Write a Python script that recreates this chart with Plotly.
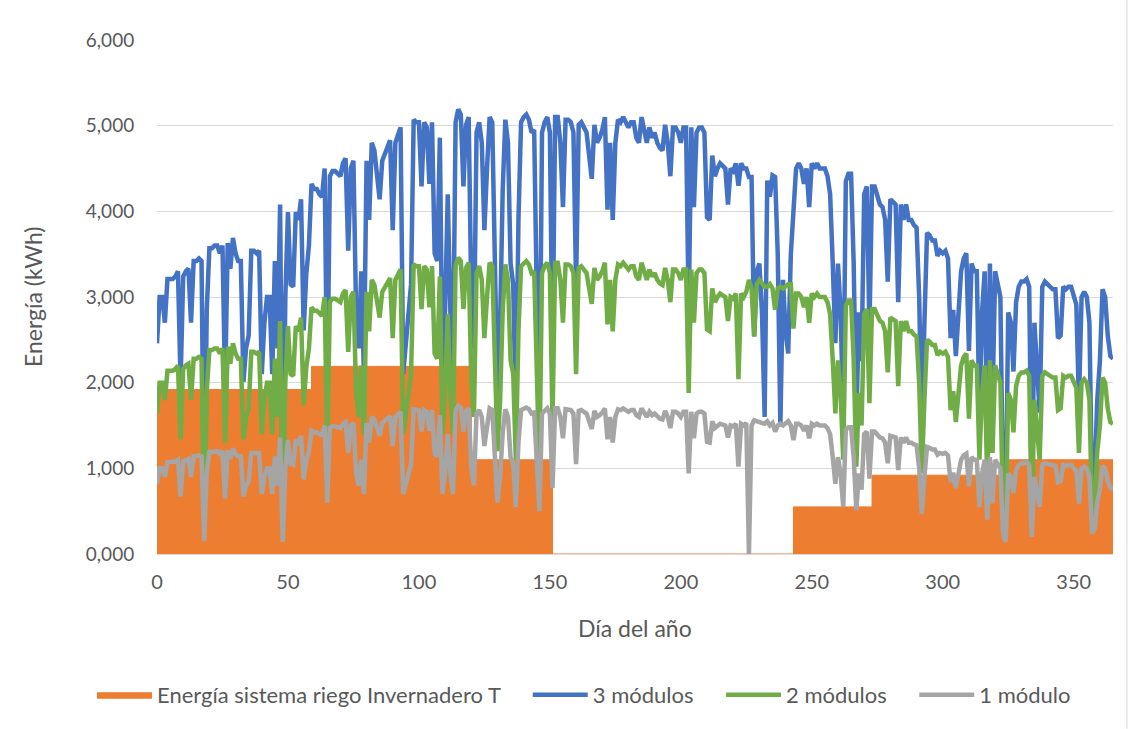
import plotly.graph_objects as go

dias = list(range(366))

# Energía sistema riego (escalones por periodo)
riego_x = [0, 59, 120, 151, 243, 273, 324, 365]
riego_y = [1.92, 2.19, 1.10, 0.00, 0.55, 0.92, 1.10, 1.10]

modulo_1 = [
    0.82, 1.00, 1.00, 0.90, 1.07, 1.07, 1.07, 1.08, 1.10, 0.67,
    1.08, 1.10, 1.11, 0.90, 1.14, 1.14, 1.15, 1.14, 0.15, 0.95,
    1.19, 1.19, 1.20, 1.20, 1.17, 1.20, 0.65, 1.21, 1.11, 1.23,
    1.17, 1.14, 1.14, 0.67, 0.80, 0.85, 1.18, 1.18, 1.17, 1.18,
    0.70, 0.90, 1.00, 1.00, 0.70, 1.14, 0.80, 1.36, 0.14, 1.00,
    1.33, 1.05, 1.04, 1.33, 1.30, 1.38, 0.87, 1.09, 1.20, 1.44,
    1.42, 1.42, 1.40, 1.39, 1.50, 0.60, 1.47, 1.49, 1.49, 1.48,
    1.47, 1.52, 1.54, 1.18, 1.50, 1.53, 0.95, 0.80, 1.10, 0.70,
    1.53, 1.30, 1.60, 1.57, 1.47, 1.38, 1.53, 1.56, 1.58, 1.61,
    1.26, 1.60, 1.63, 1.66, 0.70, 0.82, 0.90, 1.05, 1.69, 1.68,
    1.68, 1.43, 1.68, 1.66, 1.44, 1.68, 1.17, 1.14, 1.62, 0.70,
    0.95, 1.40, 0.95, 0.70, 1.68, 1.73, 1.71, 1.43, 1.67, 1.70,
    1.00, 0.80, 1.64, 1.68, 1.60, 1.26, 1.50, 1.70, 1.68, 1.16,
    0.60, 0.90, 1.42, 1.69, 1.60, 1.13, 1.05, 0.55, 1.30, 1.68,
    1.70, 1.71, 1.69, 1.64, 1.65, 1.00, 0.50, 1.64, 1.68, 1.70,
    1.64, 0.77, 1.70, 1.70, 1.60, 1.35, 1.69, 1.69, 1.68, 1.64,
    1.05, 1.67, 1.68, 1.66, 1.64, 1.55, 1.46, 1.67, 1.60, 1.62,
    1.65, 1.70, 1.34, 1.60, 1.30, 1.60, 1.69, 1.68, 1.70, 1.68,
    1.66, 1.68, 1.68, 1.62, 1.60, 1.70, 1.65, 1.60, 1.66, 1.62,
    1.64, 1.60, 1.58, 1.57, 1.67, 1.60, 1.47, 1.66, 1.66, 1.64,
    1.60, 1.66, 1.66, 0.94, 1.66, 1.35, 1.64, 1.66, 1.66, 1.64,
    1.31, 1.30, 1.55, 1.47, 1.50, 1.52, 1.51, 1.50, 1.36, 1.50,
    1.49, 1.52, 1.02, 1.52, 1.50, 1.53, 0.00, 1.50, 1.56, 1.55,
    1.53, 1.53, 1.52, 1.55, 1.50, 1.53, 1.43, 1.50, 1.52, 1.50,
    1.52, 1.55, 1.50, 1.33, 1.52, 1.52, 1.50, 1.44, 1.50, 1.35,
    1.52, 1.50, 1.52, 1.50, 1.50, 1.50, 1.47, 1.40, 1.13, 0.82,
    1.13, 0.94, 0.55, 1.45, 1.48, 1.48, 1.13, 0.51, 0.94, 0.75,
    1.40, 1.43, 0.88, 1.43, 1.43, 1.40, 1.36, 1.35, 1.30, 1.06,
    1.38, 1.37, 1.36, 0.98, 1.36, 1.30, 1.36, 1.30, 1.30, 1.28,
    1.27, 1.00, 0.47, 0.90, 1.25, 1.24, 1.22, 1.22, 1.16, 1.18,
    1.17, 1.18, 1.15, 0.84, 0.95, 0.77, 0.96, 1.10, 1.15, 1.17,
    0.79, 1.13, 1.10, 1.10, 0.55, 0.94, 1.10, 0.40, 1.13, 0.59,
    1.10, 1.05, 1.00, 0.24, 0.14, 0.94, 0.90, 0.71, 0.98, 1.04,
    1.06, 1.06, 1.07, 1.04, 0.20, 0.90, 0.75, 0.55, 1.04, 1.06,
    1.05, 1.04, 1.03, 1.03, 0.84, 0.85, 1.04, 1.03, 1.04, 1.04,
    1.00, 0.97, 0.59, 1.00, 1.02, 1.00, 0.90, 0.24, 0.30, 0.60,
    0.75, 1.03, 1.00, 0.85, 0.77, 0.76,
]

modulos_2 = [
    1.64, 2.00, 2.00, 1.80, 2.14, 2.14, 2.14, 2.16, 2.20, 1.34,
    2.16, 2.20, 2.22, 1.80, 2.28, 2.28, 2.30, 2.28, 0.30, 1.90,
    2.38, 2.38, 2.40, 2.40, 2.34, 2.40, 1.30, 2.42, 2.22, 2.46,
    2.34, 2.28, 2.28, 1.34, 1.60, 1.70, 2.36, 2.36, 2.34, 2.36,
    1.40, 1.80, 2.00, 2.00, 1.40, 2.28, 1.60, 2.72, 0.28, 2.00,
    2.66, 2.10, 2.08, 2.66, 2.60, 2.76, 1.74, 2.18, 2.40, 2.88,
    2.84, 2.84, 2.80, 2.78, 3.00, 1.20, 2.94, 2.98, 2.98, 2.96,
    2.94, 3.04, 3.08, 2.36, 3.00, 3.06, 1.90, 1.60, 2.20, 1.40,
    3.06, 2.60, 3.20, 3.14, 2.94, 2.76, 3.06, 3.12, 3.16, 3.22,
    2.52, 3.20, 3.26, 3.32, 1.40, 1.64, 1.80, 2.10, 3.38, 3.36,
    3.36, 2.86, 3.36, 3.32, 2.88, 3.36, 2.34, 2.28, 3.24, 1.40,
    1.90, 2.80, 1.90, 1.40, 3.36, 3.46, 3.42, 2.86, 3.34, 3.40,
    2.00, 1.60, 3.28, 3.36, 3.20, 2.52, 3.00, 3.40, 3.36, 2.32,
    1.20, 1.80, 2.84, 3.38, 3.20, 2.26, 2.10, 1.10, 2.60, 3.36,
    3.40, 3.42, 3.38, 3.28, 3.30, 2.00, 1.00, 3.28, 3.36, 3.40,
    3.28, 1.54, 3.40, 3.40, 3.20, 2.70, 3.38, 3.38, 3.36, 3.28,
    2.10, 3.34, 3.36, 3.32, 3.28, 3.10, 2.92, 3.34, 3.20, 3.24,
    3.30, 3.40, 2.68, 3.20, 2.60, 3.20, 3.38, 3.36, 3.40, 3.36,
    3.32, 3.36, 3.36, 3.24, 3.20, 3.40, 3.30, 3.20, 3.32, 3.24,
    3.28, 3.20, 3.16, 3.14, 3.34, 3.20, 2.94, 3.32, 3.32, 3.28,
    3.20, 3.32, 3.32, 1.88, 3.32, 2.70, 3.28, 3.32, 3.32, 3.28,
    2.62, 2.60, 3.10, 2.94, 3.00, 3.04, 3.02, 3.00, 2.72, 3.00,
    2.98, 3.04, 2.04, 3.04, 3.00, 3.06, 3.20, 3.10, 2.54, 3.15,
    3.20, 3.15, 3.12, 3.12, 3.15, 3.10, 2.85, 3.10, 3.12, 3.10,
    3.12, 3.15, 3.15, 2.63, 3.04, 3.04, 3.00, 2.88, 3.00, 2.70,
    3.04, 3.00, 3.04, 3.00, 3.00, 3.00, 2.94, 2.80, 2.26, 1.64,
    2.26, 1.88, 1.10, 2.90, 2.96, 2.96, 2.26, 1.02, 1.88, 1.50,
    2.80, 2.86, 1.76, 2.86, 2.86, 2.80, 2.72, 2.70, 2.60, 2.12,
    2.76, 2.74, 2.72, 1.96, 2.72, 2.60, 2.72, 2.60, 2.60, 2.56,
    2.54, 2.00, 0.94, 1.80, 2.50, 2.48, 2.44, 2.44, 2.32, 2.36,
    2.34, 2.36, 2.30, 1.68, 1.90, 1.54, 1.92, 2.20, 2.30, 2.34,
    1.58, 2.26, 2.20, 2.20, 1.10, 1.88, 2.20, 0.80, 2.26, 1.18,
    2.20, 2.10, 2.00, 0.48, 0.28, 1.88, 1.80, 1.42, 1.96, 2.08,
    2.12, 2.12, 2.14, 2.08, 0.40, 1.80, 1.50, 1.10, 2.08, 2.12,
    2.10, 2.08, 2.06, 2.06, 1.68, 1.70, 2.08, 2.06, 2.08, 2.08,
    2.00, 1.94, 1.18, 2.00, 2.04, 2.00, 1.80, 0.48, 0.60, 1.20,
    1.50, 2.06, 2.00, 1.70, 1.54, 1.52,
]

modulos_3 = [
    2.46, 3.00, 3.00, 2.70, 3.21, 3.21, 3.21, 3.24, 3.30, 2.01,
    3.24, 3.30, 3.33, 2.70, 3.42, 3.42, 3.45, 3.42, 0.45, 2.85,
    3.57, 3.57, 3.60, 3.60, 3.51, 3.60, 1.95, 3.63, 3.33, 3.69,
    3.51, 3.42, 3.42, 2.01, 2.40, 2.55, 3.54, 3.54, 3.51, 3.54,
    2.10, 2.70, 3.00, 3.00, 2.10, 3.42, 2.40, 4.08, 0.42, 3.00,
    3.99, 3.15, 3.12, 3.99, 3.90, 4.14, 2.61, 3.27, 3.60, 4.32,
    4.26, 4.26, 4.20, 4.17, 4.50, 1.80, 4.41, 4.47, 4.47, 4.44,
    4.41, 4.56, 4.62, 3.54, 4.50, 4.59, 2.85, 2.40, 3.30, 2.10,
    4.59, 3.90, 4.80, 4.71, 4.41, 4.14, 4.59, 4.68, 4.74, 4.83,
    3.78, 4.80, 4.89, 4.98, 2.10, 2.46, 2.70, 3.15, 5.07, 5.04,
    5.04, 4.29, 5.04, 4.98, 4.32, 5.04, 3.51, 3.42, 4.86, 2.10,
    2.85, 4.20, 2.85, 2.10, 5.04, 5.19, 5.13, 4.29, 5.01, 5.10,
    3.00, 2.40, 4.92, 5.04, 4.80, 3.78, 4.50, 5.10, 5.04, 3.48,
    1.80, 2.70, 4.26, 5.07, 4.80, 3.39, 3.15, 1.65, 3.90, 5.04,
    5.10, 5.13, 5.07, 4.92, 4.95, 3.00, 1.50, 4.92, 5.04, 5.10,
    4.92, 2.31, 5.10, 5.10, 4.80, 4.05, 5.07, 5.07, 5.04, 4.92,
    3.15, 5.01, 5.04, 4.98, 4.92, 4.65, 4.38, 5.01, 4.80, 4.86,
    4.95, 5.10, 4.02, 4.80, 3.90, 4.80, 5.07, 5.04, 5.10, 5.04,
    4.98, 5.04, 5.04, 4.86, 4.80, 5.10, 4.95, 4.80, 4.98, 4.86,
    4.92, 4.80, 4.74, 4.71, 5.01, 4.80, 4.41, 4.98, 4.98, 4.92,
    4.80, 4.98, 4.98, 2.82, 4.98, 4.05, 4.92, 4.98, 4.98, 4.92,
    3.93, 3.90, 4.65, 4.41, 4.50, 4.56, 4.53, 4.50, 4.08, 4.50,
    4.47, 4.56, 4.30, 4.56, 4.50, 4.50, 4.40, 4.40, 2.54, 3.30,
    3.39, 2.80, 1.60, 4.36, 4.17, 4.42, 4.40, 3.50, 1.49, 3.20,
    2.60, 2.34, 3.50, 4.00, 4.50, 4.56, 4.50, 4.32, 4.50, 4.05,
    4.56, 4.50, 4.56, 4.50, 4.50, 4.50, 4.41, 4.20, 3.39, 2.46,
    3.39, 2.82, 1.65, 4.35, 4.44, 4.44, 3.39, 1.53, 2.82, 2.25,
    4.20, 4.29, 2.64, 4.29, 4.29, 4.20, 4.08, 4.05, 3.90, 3.18,
    4.14, 4.11, 4.08, 2.94, 4.08, 3.90, 4.08, 3.90, 3.90, 3.84,
    3.81, 3.00, 1.41, 2.70, 3.75, 3.72, 3.66, 3.66, 3.48, 3.54,
    3.51, 3.54, 3.45, 2.52, 2.85, 2.31, 2.88, 3.30, 3.45, 3.51,
    2.37, 3.39, 3.30, 3.30, 1.65, 2.82, 3.30, 1.20, 3.39, 1.77,
    3.30, 3.15, 3.00, 0.72, 0.42, 2.82, 2.70, 2.13, 2.94, 3.12,
    3.18, 3.18, 3.21, 3.12, 0.60, 2.70, 2.25, 1.65, 3.12, 3.18,
    3.15, 3.12, 3.09, 3.09, 2.52, 2.55, 3.12, 3.09, 3.12, 3.12,
    3.00, 2.91, 1.77, 3.00, 3.06, 3.00, 2.70, 0.72, 0.90, 1.80,
    2.25, 3.09, 3.00, 2.55, 2.31, 2.28,
]

assert len(modulo_1) == len(dias), len(modulo_1)
assert len(modulos_2) == len(dias), len(modulos_2)
assert len(modulos_3) == len(dias), len(modulos_3)

x_ticks = [0, 50, 100, 150, 200, 250, 300, 350]
y_ticks = [0, 1, 2, 3, 4, 5, 6]

FONT = "Lato, 'Open Sans', sans-serif"
TXT = "#595959"
GRID = "#d9d9d9"
PAD = "\u00a0" * 4

fig = go.Figure()
fig.add_trace(go.Scatter(
    x=riego_x, y=riego_y, mode="lines", line=dict(shape="hv", color="#ED7D31", width=1),
    fill="tozeroy", fillcolor="#ED7D31", name="Energía sistema riego Invernadero T" + PAD))
fig.add_trace(go.Scatter(x=dias, y=modulos_3, mode="lines",
                         line=dict(color="#4472C4", width=4.5), name="3 módulos" + PAD))
fig.add_trace(go.Scatter(x=dias, y=modulos_2, mode="lines",
                         line=dict(color="#70AD47", width=4.5), name="2 módulos" + PAD))
fig.add_trace(go.Scatter(x=dias, y=modulo_1, mode="lines",
                         line=dict(color="#A5A5A5", width=4.5), name="1 módulo"))

fig.update_layout(
    width=1134, height=729,
    margin=dict(l=157, r=21, t=40, b=175, autoexpand=False),
    paper_bgcolor="white", plot_bgcolor="white",
    separators=",.",
    font=dict(family=FONT, size=20, color=TXT),
    showlegend=True,
    legend=dict(orientation="h", xref="paper", yref="paper",
                x=-0.068, xanchor="left", y=-0.2743, yanchor="middle",
                font=dict(family=FONT, size=22, color=TXT), itemwidth=55,
                traceorder="normal", bgcolor="rgba(0,0,0,0)"),
    xaxis=dict(range=[0, 365], tickvals=x_ticks, showgrid=False, zeroline=False,
               showline=True, linecolor=GRID, linewidth=1,
               ticks="outside", ticklen=10, tickcolor="rgba(0,0,0,0)",
               tickfont=dict(family=FONT, size=20, color=TXT)),
    yaxis=dict(range=[0, 6], tickvals=y_ticks, tickformat=".3f", showgrid=True,
               gridcolor=GRID, gridwidth=1, zeroline=False, showline=False,
               ticks="outside", ticklen=18, tickcolor="rgba(0,0,0,0)",
               tickfont=dict(family=FONT, size=19, color=TXT)),
    annotations=[
        dict(text="Día del año", xref="paper", yref="paper", x=0.5, y=-0.144,
             xanchor="center", yanchor="middle", showarrow=False,
             font=dict(family=FONT, size=23, color=TXT)),
        dict(text="Energía (kWh)", xref="paper", yref="paper", x=-0.1297, y=0.5,
             xanchor="center", yanchor="middle", showarrow=False, textangle=-90,
             font=dict(family=FONT, size=23, color=TXT)),
    ],
    shapes=[dict(type="line", xref="paper", yref="paper", x0=1.0146, x1=1.0146,
                 y0=-0.34, y1=1.08, line=dict(color=GRID, width=1))],
)

fig.write_html("out.html")
